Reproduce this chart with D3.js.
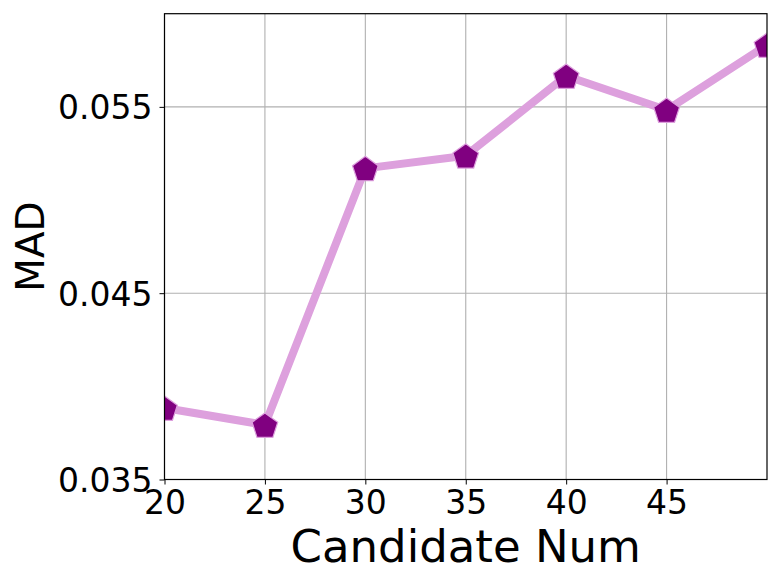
<!DOCTYPE html>
<html>
<head>
<meta charset="utf-8">
<script src="https://cdn.jsdelivr.net/npm/d3@7"></script>
<style>
  html, body { margin: 0; padding: 0; background: #fff; }
  svg { display: block; }
</style>
</head>
<body>
<svg id="chart" width="781" height="586"></svg>
<script>
const candidateNums = [20, 25, 30, 35, 40, 45, 50];
const madValues = [0.03884, 0.03793, 0.05170, 0.05238, 0.05666, 0.05483, 0.05832];
const xTicks = [20, 25, 30, 35, 40, 45];
const yTicks = [0.035, 0.045, 0.055];
const xLabel = "Candidate Num";
const yLabel = "MAD";

const svg = d3.select("#chart");
const pLeft = 164.5, pRight = 767, pTop = 13.7, pBottom = 479.5;
const font = "DejaVu Sans, sans-serif";

const x = d3.scaleLinear().domain([20, 50]).range([pLeft, pRight]);
const y = d3.scaleLinear().domain([0.035, 0.060]).range([pBottom, pTop]);

svg.append("rect").attr("x", 0).attr("y", 0).attr("width", 781).attr("height", 586).attr("fill", "#fff");

// grid
const grid = svg.append("g");
grid.selectAll("line.vx").data(xTicks).enter().append("line")
  .attr("x1", d => x(d)).attr("x2", d => x(d)).attr("y1", pTop).attr("y2", pBottom)
  .attr("stroke", "#b0b0b0").attr("stroke-width", 1.1);
grid.selectAll("line.hy").data(yTicks).enter().append("line")
  .attr("y1", d => y(d)).attr("y2", d => y(d)).attr("x1", pLeft).attr("x2", pRight)
  .attr("stroke", "#b0b0b0").attr("stroke-width", 1.1);

// clip
svg.append("clipPath").attr("id", "clip").append("rect")
  .attr("x", pLeft).attr("y", pTop).attr("width", pRight - pLeft).attr("height", pBottom - pTop);

const data = candidateNums.map((c, i) => ({c, v: madValues[i]}));
const plot = svg.append("g").attr("clip-path", "url(#clip)");
plot.append("path").datum(data)
  .attr("d", d3.line().x(d => x(d.c)).y(d => y(d.v)))
  .attr("fill", "none").attr("stroke", "#dda0dd").attr("stroke-width", 8)
  .attr("stroke-linejoin", "round");

const R = 13.5;
const pent = d3.range(5).map(k => {
  const a = -Math.PI / 2 + k * 2 * Math.PI / 5;
  return [R * Math.cos(a), R * Math.sin(a)];
});
const pentPath = "M" + pent.map(p => p.join(",")).join("L") + "Z";
plot.selectAll("path.mk").data(data).enter().append("path")
  .attr("class", "mk")
  .attr("transform", d => `translate(${x(d.c)},${y(d.v) + 1.5})`)
  .attr("d", pentPath)
  .attr("fill", "#800080").attr("stroke", "#dda0dd").attr("stroke-width", 1.2);

// axes
const xAxis = d3.axisBottom(x).tickValues(xTicks).tickFormat(d3.format("d")).tickSize(5).tickPadding(6);
const yAxis = d3.axisLeft(y).tickValues(yTicks).tickFormat(d3.format(".3f")).tickSize(5).tickPadding(7);

const gx = svg.append("g").attr("transform", `translate(0,${pBottom})`).call(xAxis);
const gy = svg.append("g").attr("transform", `translate(${pLeft},0)`).call(yAxis);
[gx, gy].forEach(g => {
  g.select(".domain").remove();
  g.selectAll(".tick line").attr("stroke", "#000").attr("stroke-width", 1);
  g.selectAll(".tick text").attr("font-family", font).attr("font-size", 33).attr("fill", "#000");
});
gy.selectAll(".tick text").attr("dy", "0.36em");

// frame
svg.append("rect").attr("x", pLeft).attr("y", pTop).attr("width", pRight - pLeft).attr("height", pBottom - pTop)
  .attr("fill", "none").attr("stroke", "#000").attr("stroke-width", 1.2);

// labels
svg.append("text").attr("x", (pLeft + pRight) / 2).attr("y", 561.5)
  .attr("text-anchor", "middle").attr("font-family", font).attr("font-size", 45)
  .attr("fill", "#000").text(xLabel);
svg.append("text").attr("transform", `translate(43.5,${(pTop + pBottom) / 2}) rotate(-90)`)
  .attr("text-anchor", "middle").attr("font-family", font).attr("font-size", 39)
  .attr("fill", "#000").text(yLabel);
</script>
</body>
</html>
